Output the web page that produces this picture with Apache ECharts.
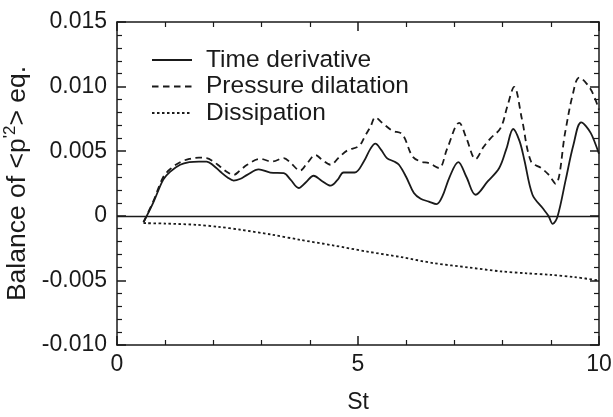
<!DOCTYPE html>
<html>
<head>
<meta charset="utf-8">
<script src="https://cdn.jsdelivr.net/npm/echarts@6/dist/echarts.min.js"></script>
<style>
html,body{margin:0;padding:0;background:#fff;}
#chart{width:613px;height:417px;}
</style>
</head>
<body>
<div id="chart"></div>
<script>
// Tick labels
var xTicks = [0, 5, 10];
var yTicks = ['-0.010', '-0.005', '0', '0.005', '0.010', '0.015'];
var seriesNames = ['Time derivative', 'Pressure dilatation', 'Dissipation'];

// Time derivative (solid)
var timeDerivSt = [0.55,0.75,0.96,1.1,1.31,1.5,1.7,1.86,2.0,2.14,2.3,2.42,2.55,2.7,2.94,3.18,3.46,3.6,3.77,3.92,4.08,4.25,4.43,4.58,4.7,4.93,5.12,5.26,5.36,5.48,5.6,5.75,5.85,6.0,6.16,6.3,6.47,6.63,6.75,6.9,7.08,7.25,7.44,7.69,7.93,8.08,8.22,8.35,8.45,8.62,8.83,8.95,9.04,9.14,9.31,9.47,9.63,9.83,10.0];
var timeDerivVal = [-0.0005,0.0010,0.0028,0.0034,0.00395,0.00415,0.0042,0.0042,0.0039,0.00343,0.00295,0.00273,0.00285,0.00317,0.0036,0.00335,0.0033,0.0028,0.00215,0.0026,0.0031,0.0027,0.00233,0.0028,0.00335,0.00335,0.0042,0.0052,0.00558,0.0051,0.00447,0.0042,0.00395,0.0030,0.00176,0.00132,0.0011,0.0009,0.0015,0.0030,0.00416,0.0030,0.00163,0.00266,0.0037,0.0052,0.00672,0.0058,0.00434,0.00163,0.0006,0.0,-0.00062,-0.00005,0.0028,0.0055,0.00723,0.0064,0.0048];

// Pressure dilatation (dashed)
var pressDilSt = [0.55,0.75,0.96,1.1,1.31,1.5,1.7,1.86,2.0,2.14,2.3,2.42,2.55,2.7,2.97,3.22,3.46,3.6,3.8,3.95,4.12,4.25,4.43,4.6,4.78,5.02,5.15,5.26,5.36,5.5,5.71,5.92,6.13,6.3,6.47,6.68,6.85,7.1,7.25,7.44,7.6,7.75,7.96,8.1,8.24,8.4,8.59,8.8,8.95,9.1,9.3,9.45,9.59,9.83,10.0];
var pressDilVal = [-0.0005,0.0011,0.0030,0.0036,0.00415,0.0044,0.0045,0.00447,0.0042,0.0038,0.00335,0.00317,0.0035,0.00395,0.0044,0.0042,0.00447,0.0041,0.0035,0.0041,0.0047,0.00435,0.00395,0.0045,0.00506,0.0054,0.0062,0.0069,0.00762,0.0072,0.0066,0.0063,0.0046,0.0042,0.00408,0.0037,0.0052,0.0072,0.0060,0.0044,0.0053,0.0060,0.0068,0.0085,0.00998,0.0075,0.0042,0.0037,0.0032,0.00248,0.0065,0.0093,0.0107,0.00977,0.0082];

// Dissipation (dotted)
var dissSt = [0.55,1.0,1.66,2.1,2.56,3.2,3.8,4.5,5.19,5.9,6.58,7.3,7.96,8.5,9.0,9.5,10.0];
var dissVal = [-0.00057,-0.0006,-0.0007,-0.00085,-0.00108,-0.00145,-0.00186,-0.0023,-0.00277,-0.0032,-0.00367,-0.0040,-0.0043,-0.00445,-0.00457,-0.00475,-0.0050];

function pairs(xs, ys) { return xs.map(function (x, i) { return [x, ys[i]]; }); }

var FONT = '"Liberation Sans", Arial, Helvetica, sans-serif';
var INK = '#1a1a1a';

function yLabel(v) {
  var best = yTicks[0], bd = Infinity;
  yTicks.forEach(function (t) { var d = Math.abs(parseFloat(t) - v); if (d < bd) { bd = d; best = t; } });
  return best;
}
function xLabel(v) {
  var best = xTicks[0], bd = Infinity;
  xTicks.forEach(function (t) { var d = Math.abs(t - v); if (d < bd) { bd = d; best = t; } });
  return String(best);
}

var axisLineStyle = { color: INK, width: 1.5 };

var chart = echarts.init(document.getElementById('chart'), null, { renderer: 'canvas' });
chart.setOption({
  backgroundColor: '#ffffff',
  animation: false,
  textStyle: { fontFamily: FONT, color: INK },
  grid: { left: 117, right: 14, top: 22, bottom: 72, containLabel: false, outerBoundsMode: 'none' },
  legend: {
    orient: 'vertical',
    left: 151,
    top: 47,
    padding: 0,
    itemWidth: 40,
    itemHeight: 14,
    itemGap: 0.5,
    itemStyle: { color: 'rgba(0,0,0,0)', borderColor: 'rgba(0,0,0,0)', borderWidth: 0 },
    textStyle: { fontFamily: FONT, fontSize: 24.5, lineHeight: 26, color: INK, padding: [0, 0, 0, 9] },
    data: seriesNames.map(function (n) { return { name: n }; })
  },
  xAxis: [{
    type: 'value', min: 0, max: 10, interval: 5, position: 'bottom',
    name: 'St', nameLocation: 'middle', nameGap: 46,
    nameTextStyle: { fontFamily: FONT, fontSize: 23, color: INK },
    axisLine: { show: true, onZero: false, lineStyle: axisLineStyle },
    axisTick: { show: true, inside: true, length: 9, lineStyle: axisLineStyle },
    minorTick: { show: true, splitNumber: 5, length: 5, lineStyle: { color: INK, width: 1.2 } },
    axisLabel: { show: true, margin: 8, fontFamily: FONT, fontSize: 23, color: INK, formatter: xLabel },
    splitLine: { show: false }
  }, {
    type: 'value', min: 0, max: 10, interval: 5, position: 'top',
    axisLine: { show: true, onZero: false, lineStyle: axisLineStyle },
    axisTick: { show: true, inside: true, length: 9, lineStyle: axisLineStyle },
    minorTick: { show: true, splitNumber: 5, length: 5, lineStyle: { color: INK, width: 1.2 } },
    axisLabel: { show: false },
    splitLine: { show: false }
  }],
  yAxis: [{
    type: 'value', min: -0.010, max: 0.015, interval: 0.005, position: 'left',
    name: '{t|Balance of <p}{s|\'2}{t|> eq.}',
    nameLocation: 'middle', nameGap: 80, nameRotate: 90,
    nameTextStyle: {
      fontFamily: FONT, fontSize: 26.5, color: INK,
      rich: {
        t: { fontFamily: FONT, fontSize: 26.5, color: INK, verticalAlign: 'bottom', lineHeight: 30 },
        s: { fontFamily: FONT, fontSize: 17, color: INK, verticalAlign: 'bottom', lineHeight: 30, padding: [0, 0, 12, 0] }
      }
    },
    axisLine: { show: true, onZero: false, lineStyle: axisLineStyle },
    axisTick: { show: true, inside: true, length: 9, lineStyle: axisLineStyle },
    minorTick: { show: true, splitNumber: 5, length: 5, lineStyle: { color: INK, width: 1.2 } },
    axisLabel: { show: true, margin: 10, fontFamily: FONT, fontSize: 23, color: INK, formatter: yLabel },
    splitLine: { show: false }
  }, {
    type: 'value', min: -0.010, max: 0.015, interval: 0.005, position: 'right',
    axisLine: { show: true, onZero: false, lineStyle: axisLineStyle },
    axisTick: { show: true, inside: true, length: 9, lineStyle: axisLineStyle },
    minorTick: { show: true, splitNumber: 5, length: 5, lineStyle: { color: INK, width: 1.2 } },
    axisLabel: { show: false },
    splitLine: { show: false }
  }],
  series: [{
    name: seriesNames[0], type: 'line', xAxisIndex: 0, yAxisIndex: 0,
    data: pairs(timeDerivSt, timeDerivVal),
    showSymbol: false, symbol: 'none', smooth: 0.35,
    lineStyle: { color: INK, width: 1.8, type: 'solid' },
    itemStyle: { color: INK },
    markLine: {
      silent: true, symbol: ['none', 'none'], label: { show: false },
      lineStyle: { color: INK, width: 1.3, type: 'solid' },
      data: [{ yAxis: 0 }]
    }
  }, {
    name: seriesNames[1], type: 'line', xAxisIndex: 0, yAxisIndex: 0,
    data: pairs(pressDilSt, pressDilVal),
    showSymbol: false, symbol: 'none', smooth: 0.35,
    lineStyle: { color: INK, width: 1.8, type: [6.5, 4.5] },
    itemStyle: { color: INK }
  }, {
    name: seriesNames[2], type: 'line', xAxisIndex: 0, yAxisIndex: 0,
    data: pairs(dissSt, dissVal),
    showSymbol: false, symbol: 'none', smooth: 0.3,
    lineStyle: { color: INK, width: 1.8, type: [2.5, 2.5] },
    itemStyle: { color: INK }
  }]
});
</script>
</body>
</html>
